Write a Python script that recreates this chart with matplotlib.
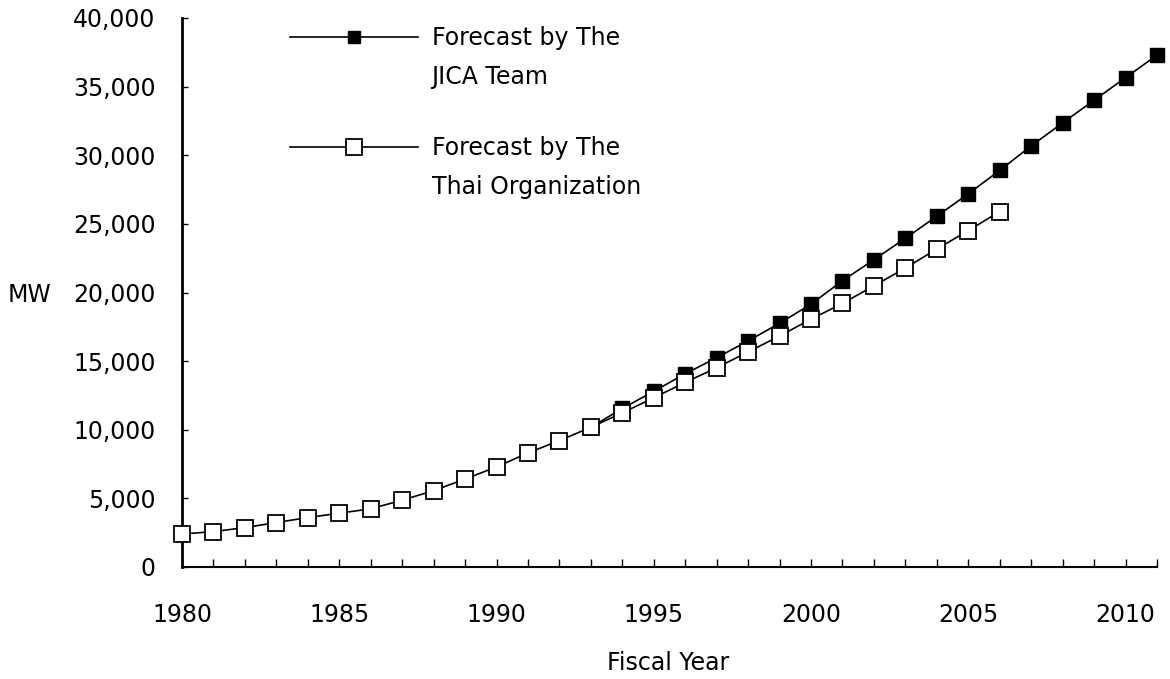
import matplotlib.pyplot as plt
from matplotlib.lines import Line2D
from matplotlib.ticker import FuncFormatter, MultipleLocator

# Thai organization forecast (MW)
thai_years = list(range(1980, 2007))
thai_mw = [2400, 2580, 2870, 3240, 3600, 3920, 4240, 4870, 5560, 6410,
           7290, 8310, 9210, 10180, 11230, 12330, 13450, 14520, 15670, 16830,
           18060, 19200, 20490, 21780, 23170, 24510, 25900]

# JICA team forecast (MW)
jica_years = list(range(1993, 2012))
jica_mw = [10180, 11550, 12800, 14080, 15250, 16470, 17760, 19150, 20860, 22390,
           23950, 25560, 27190, 28900, 30680, 32360, 34010, 35650, 37300]

year_ticks = [1980, 1985, 1990, 1995, 2000, 2005, 2010]
mw_ticks = [0, 5000, 10000, 15000, 20000, 25000, 30000, 35000, 40000]

plt.rcParams['font.family'] = ['DejaVu Sans']
fs = 17

fig = plt.figure(figsize=(11.7, 6.79), dpi=100)
ax = fig.add_axes([182/1170, 1-567/679, (1157-182)/1170, (567-18)/679])

ax.plot(jica_years, jica_mw, color='black', lw=1.2, marker='s', ms=10,
        mfc='black', mec='black', clip_on=False, zorder=3)
ax.plot(thai_years, thai_mw, color='black', lw=1.2, marker='s', ms=12,
        mfc='white', mec='black', mew=1.3, clip_on=False, zorder=4)

ax.set_xlim(1980, 2011)
ax.set_ylim(0, 40000)
ax.set_xticks(year_ticks)
ax.xaxis.set_minor_locator(MultipleLocator(1))
ax.set_yticks(mw_ticks)
ax.yaxis.set_major_formatter(FuncFormatter(lambda v, p: f'{int(v):,}'))

ax.tick_params(axis='x', which='both', direction='in', length=6, width=1,
               pad=26, labelsize=fs)
ax.tick_params(axis='y', direction='in', length=4, width=1, pad=19,
               labelsize=fs)

for s in ['top', 'right']:
    ax.spines[s].set_visible(False)
ax.spines['left'].set_linewidth(2)
ax.spines['bottom'].set_linewidth(1.5)

fig.text(8/1170, 1-295/679, 'MW', fontsize=fs, ha='left', va='center')
fig.text(668/1170, 1-663/679, 'Fiscal Year', fontsize=fs, ha='center', va='center')

# legend, one row per text line
jica_h = Line2D([], [], color='black', lw=1.2, marker='s', ms=9, mfc='black')
thai_h = Line2D([], [], color='black', lw=1.2, marker='s', ms=11, mfc='white', mew=1.3)
blank = Line2D([], [], linestyle='none')
handles = [jica_h, blank, blank, thai_h, blank]
labels = ['Forecast by The', 'JICA Team', ' ', 'Forecast by The', 'Thai Organization']
leg = ax.legend(handles, labels, loc='upper left', bbox_to_anchor=(290/1170, 1-26/679),
                bbox_transform=fig.transFigure, frameon=False, fontsize=fs,
                handlelength=5.4, handletextpad=0.6, labelspacing=0.62,
                borderpad=0, borderaxespad=0, numpoints=1)
leg.get_texts()[2].set_fontsize(6)

fig.savefig('out.png', dpi=100)
